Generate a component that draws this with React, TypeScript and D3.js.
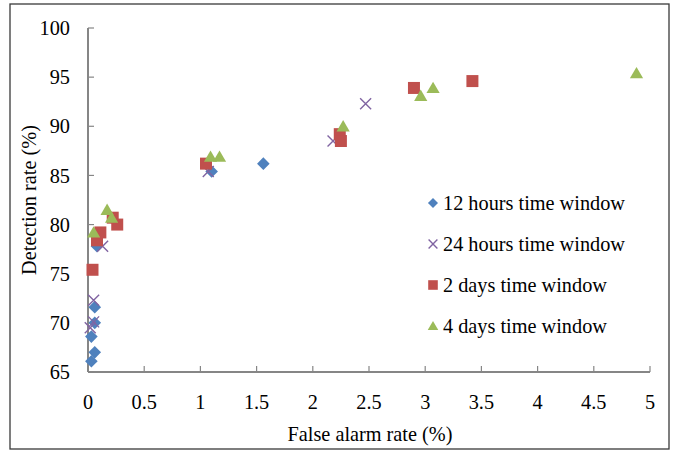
import React from "react";
import * as d3 from "d3";

// series: [false alarm %, detection %]
const hours12: [number, number][] = [
	[0.03, 66.1], [0.06, 67.0], [0.03, 68.6], [0.06, 70.0], [0.06, 71.6],
	[0.08, 77.8], [1.1, 85.4], [1.56, 86.2]
];
const hours24: [number, number][] = [
	[0.02, 69.5], [0.05, 70.1], [0.05, 72.3], [0.13, 77.8],
	[1.07, 85.4], [2.18, 88.5], [2.47, 92.3]
];
const days2: [number, number][] = [
	[0.04, 75.4], [0.08, 78.4], [0.11, 79.2], [0.22, 80.7], [0.26, 80.0],
	[1.05, 86.2], [2.24, 89.2], [2.25, 88.5], [2.9, 93.9], [3.42, 94.6]
];
const days4: [number, number][] = [
	[0.05, 79.2], [0.17, 81.5], [0.21, 80.7], [1.09, 86.9], [1.17, 86.9],
	[2.27, 90.0], [2.96, 93.1], [3.07, 93.9], [4.88, 95.4]
];
const seriesNames = ["12 hours time window", "24 hours time window", "2 days time window", "4 days time window"];
const seriesColors = ["#4F81BD", "#8064A2", "#C0504D", "#9BBB59"];
const xTicks = [0, 0.5, 1, 1.5, 2, 2.5, 3, 3.5, 4, 4.5, 5];
const yTicks = [65, 70, 75, 80, 85, 90, 95, 100];

const x = d3.scaleLinear().domain([0, 5]).range([88, 650]);
const y = d3.scaleLinear().domain([65, 100]).range([372, 28]);
const axisColor = "#868686";
const font = "'Liberation Serif', 'Times New Roman', serif";
const fs = 20.3;

const diamond = (r: number) => `M0,${-r}L${r},0L0,${r}L${-r},0Z`;
const square = (r: number) => `M${-r},${-r}H${r}V${r}H${-r}Z`;
const triangle = (r: number) => `M0,${-r * 1.05}L${r * 1.1},${r * 0.85}L${-r * 1.1},${r * 0.85}Z`;
const cross = (r: number) => `M${-r},${-r}L${r},${r}M${-r},${r}L${r},${-r}`;

function Marker({ kind, cx, cy, scale = 1 }: { kind: number; cx: number; cy: number; scale?: number }) {
	const c = seriesColors[kind];
	const t = `translate(${cx},${cy})`;
	if (kind === 0) return <path transform={t} d={diamond(6.3 * scale)} fill={c} />;
	if (kind === 1) return <path transform={t} d={cross(5.5 * scale)} stroke={c} strokeWidth={1.4} fill="none" />;
	if (kind === 2) return <path transform={t} d={square(6 * scale)} fill={c} />;
	return <path transform={t} d={triangle(6 * scale)} fill={c} />;
}

export default function App() {
	const allSeries = [hours12, hours24, days2, days4];
	return (
		<svg width={678} height={452} style={{ position: "absolute", left: 0, top: 0 }}
			fontFamily={font}>
			<rect x={0} y={0} width={678} height={452} fill="#fff" />
			<rect x={10} y={4} width={659} height={445} fill="none" stroke="#3a3a3a" strokeWidth={1.3} />
			{/* axes */}
			<line x1={x(0)} x2={x(0)} y1={y(100)} y2={y(65)} stroke={axisColor} strokeWidth={2} />
			<line x1={x(0)} x2={x(5)} y1={y(65)} y2={y(65)} stroke={axisColor} strokeWidth={2} />
			{yTicks.map(t => (
				<g key={"y" + t}>
					<line x1={x(0)} x2={x(0) + 6} y1={y(t)} y2={y(t)} stroke={axisColor} strokeWidth={1.2} />
					<text x={70} y={y(t)} dy="0.35em" textAnchor="end" fontSize={fs}>{t}</text>
				</g>
			))}
			{xTicks.map(t => (
				<g key={"x" + t}>
					<line x1={x(t)} x2={x(t)} y1={y(65)} y2={y(65) - 6} stroke={axisColor} strokeWidth={1.2} />
					<text x={x(t)} y={402} dy="0.35em" textAnchor="middle" fontSize={fs}>{t}</text>
				</g>
			))}
			<text x={370} y={434} dy="0.35em" textAnchor="middle" fontSize={fs}>False alarm rate (%)</text>
			<text transform="translate(29,200) rotate(-90)" dy="0.35em" textAnchor="middle" fontSize={fs}>Detection rate (%)</text>
			{/* points */}
			{allSeries.map((s, k) => (
				<g key={k}>
					{s.map(([a, b], i) => <Marker key={i} kind={k} cx={x(a)} cy={y(b)} />)}
				</g>
			))}
			{/* legend */}
			{seriesNames.map((n, k) => {
				const ly = 203 + k * 41;
				return (
					<g key={n}>
						<Marker kind={k} cx={433} cy={ly} scale={0.8} />
						<text x={443} y={ly} dy="0.35em" fontSize={fs}>{n}</text>
					</g>
				);
			})}
		</svg>
	);
}
